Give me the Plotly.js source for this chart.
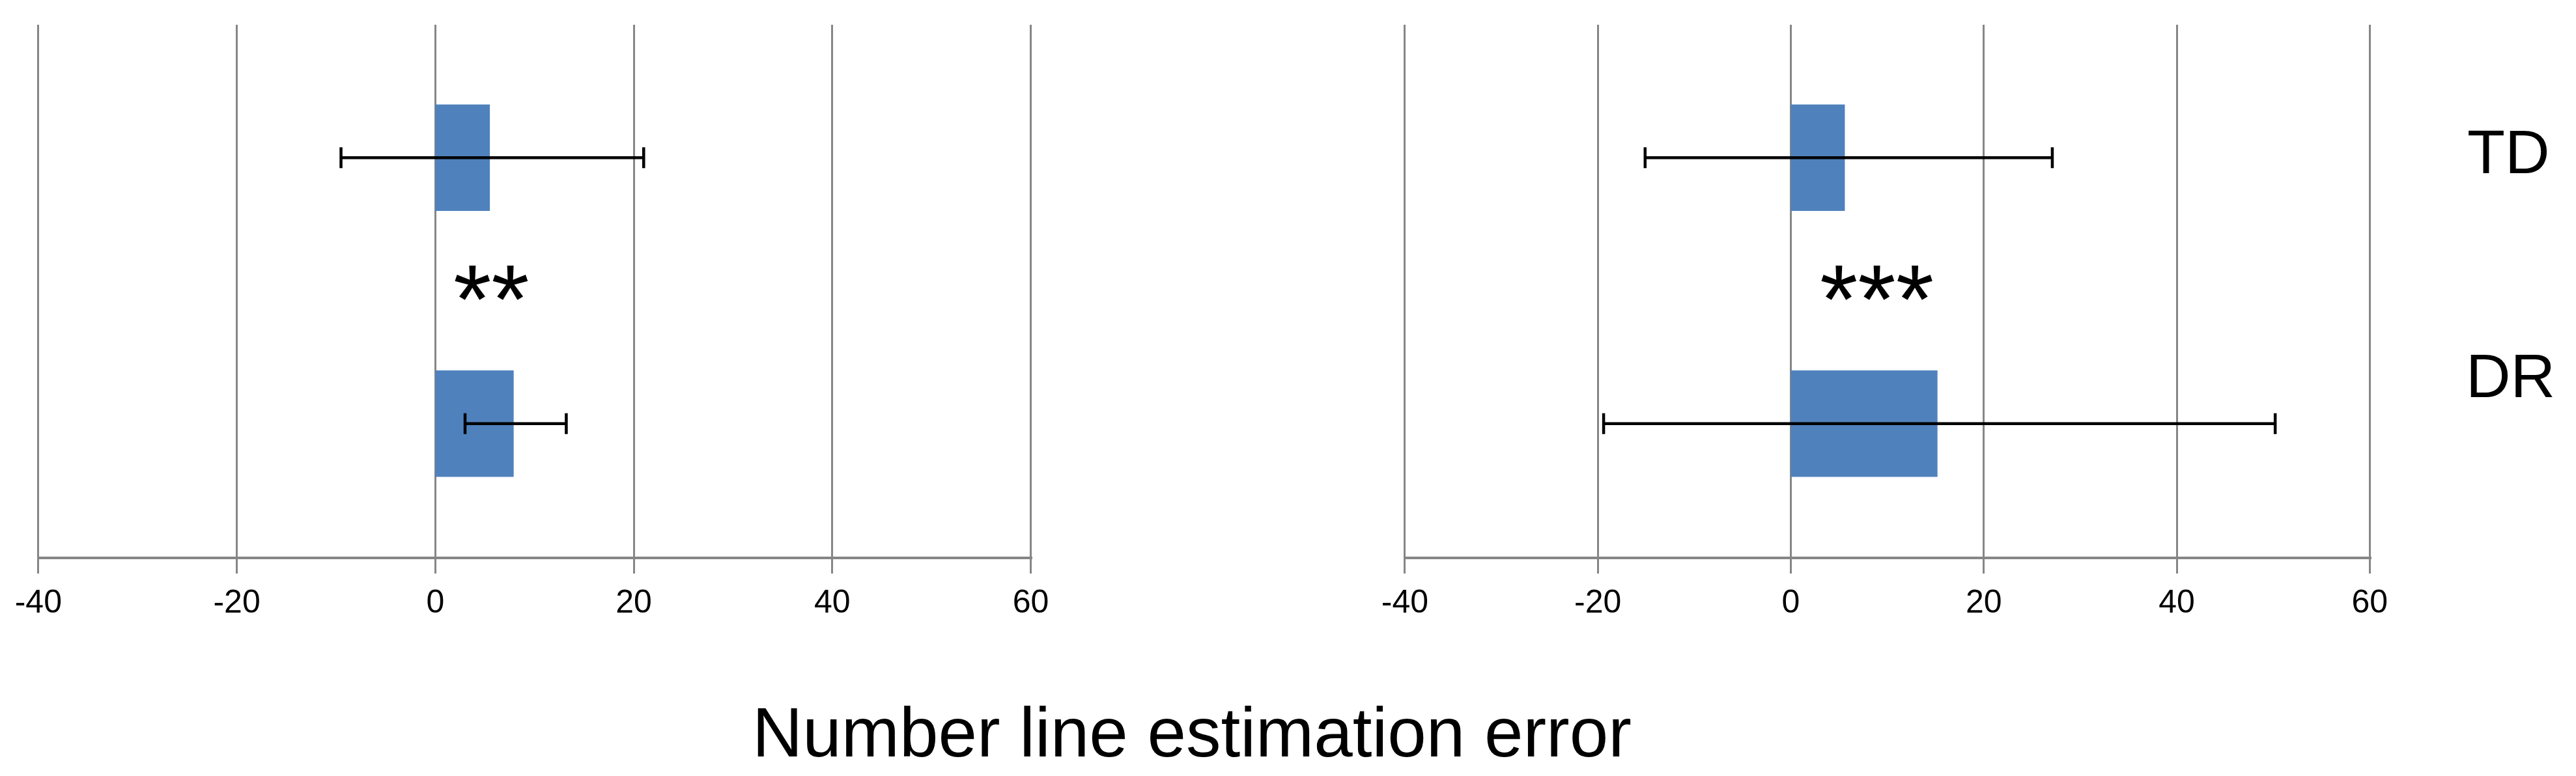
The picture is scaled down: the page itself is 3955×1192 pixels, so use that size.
<!DOCTYPE html>
<html>
<head>
<meta charset="utf-8">
<script src="https://cdn.plot.ly/plotly-3.0.1.min.js"></script>
<style>
  html, body { margin: 0; padding: 0; background: #fff; }
  #chart { width: 3955px; height: 1192px; }
</style>
</head>
<body>
<div id="chart"></div>
<script>
// groups, bottom to top as drawn
var groups = ['DR', 'TD'];

// left panel
var leftMeans = [7.9, 5.5];
var leftErrPlus = [5.3, 15.5];
var leftErrMinus = [4.9, 15.0];

// right panel
var rightMeans = [15.2, 5.6];
var rightErrPlus = [35.0, 21.5];
var rightErrMinus = [34.6, 20.7];

var xTicks = [-40, -20, 0, 20, 40, 60];
var leftStars = '**';
var rightStars = '***';

var barColor = '#4F81BD';
var gridColor = '#868686';
var fontFam = 'Liberation Sans, Arial, sans-serif';

function barTrace(means, plus, minus, xa, ya) {
  return {
    type: 'bar',
    orientation: 'h',
    x: means,
    y: groups,
    xaxis: xa,
    yaxis: ya,
    width: 0.4,
    marker: {color: barColor, line: {width: 0}},
    error_x: {
      type: 'data',
      symmetric: false,
      array: plus,
      arrayminus: minus,
      color: '#000',
      thickness: 4.5,
      width: 16
    },
    showlegend: false,
    hoverinfo: 'x+y'
  };
}

var data = [
  barTrace(leftMeans, leftErrPlus, leftErrMinus, 'x', 'y'),
  barTrace(rightMeans, rightErrPlus, rightErrMinus, 'x2', 'y2')
];

function xAxis(domain, anchor) {
  return {
    domain: domain,
    anchor: anchor,
    // a hair past the end ticks so the -40 and 60 grid lines are kept
    range: [-40.15, 60.15],
    tickvals: xTicks,
    ticktext: xTicks.map(String),
    showgrid: true,
    gridcolor: gridColor,
    gridwidth: 3,
    zeroline: false,
    showline: true,
    linecolor: gridColor,
    linewidth: 4,
    ticks: 'outside',
    ticklen: 22,
    tickwidth: 3,
    tickcolor: gridColor,
    tickfont: {family: fontFam, size: 50, color: '#000'},
    fixedrange: true
  };
}

function yAxis(anchor) {
  return {
    domain: [0.2827, 0.9681],
    anchor: anchor,
    type: 'category',
    categoryorder: 'array',
    categoryarray: groups,
    range: [-0.5, 1.5],
    showgrid: false,
    zeroline: false,
    showline: false,
    showticklabels: false,
    ticks: '',
    fixedrange: true
  };
}

var layout = {
  width: 3955,
  height: 1192,
  margin: {l: 0, r: 0, t: 0, b: 0},
  paper_bgcolor: '#fff',
  plot_bgcolor: '#fff',
  bargap: 0.6,
  xaxis: xAxis([0.0143, 0.4007], 'y'),
  yaxis: yAxis('x'),
  xaxis2: xAxis([0.5448, 0.9205], 'y2'),
  yaxis2: yAxis('x2'),
  annotations: [
    {text: leftStars, xref: 'paper', yref: 'paper', x: 0.1907, y: 0.614,
     xanchor: 'center', yanchor: 'middle', showarrow: false,
     font: {family: fontFam, size: 150, color: '#000'}},
    {text: rightStars, xref: 'paper', yref: 'paper', x: 0.7285, y: 0.614,
     xanchor: 'center', yanchor: 'middle', showarrow: false,
     font: {family: fontFam, size: 150, color: '#000'}},
    {text: groups[1], xref: 'paper', yref: 'paper', x: 0.9905, y: 1 - 233 / 1192,
     xanchor: 'right', yanchor: 'middle', showarrow: false,
     font: {family: fontFam, size: 95, color: '#000'}},
    {text: groups[0], xref: 'paper', yref: 'paper', x: 0.9925, y: 1 - 577 / 1192,
     xanchor: 'right', yanchor: 'middle', showarrow: false,
     font: {family: fontFam, size: 95, color: '#000'}},
    {text: 'Number line estimation error', xref: 'paper', yref: 'paper',
     x: 1830 / 3955, y: 1 - 1125 / 1192,
     xanchor: 'center', yanchor: 'middle', showarrow: false,
     font: {family: fontFam, size: 107, color: '#000'}}
  ]
};

Plotly.newPlot('chart', data, layout, {displayModeBar: false, staticPlot: true});
</script>
</body>
</html>
